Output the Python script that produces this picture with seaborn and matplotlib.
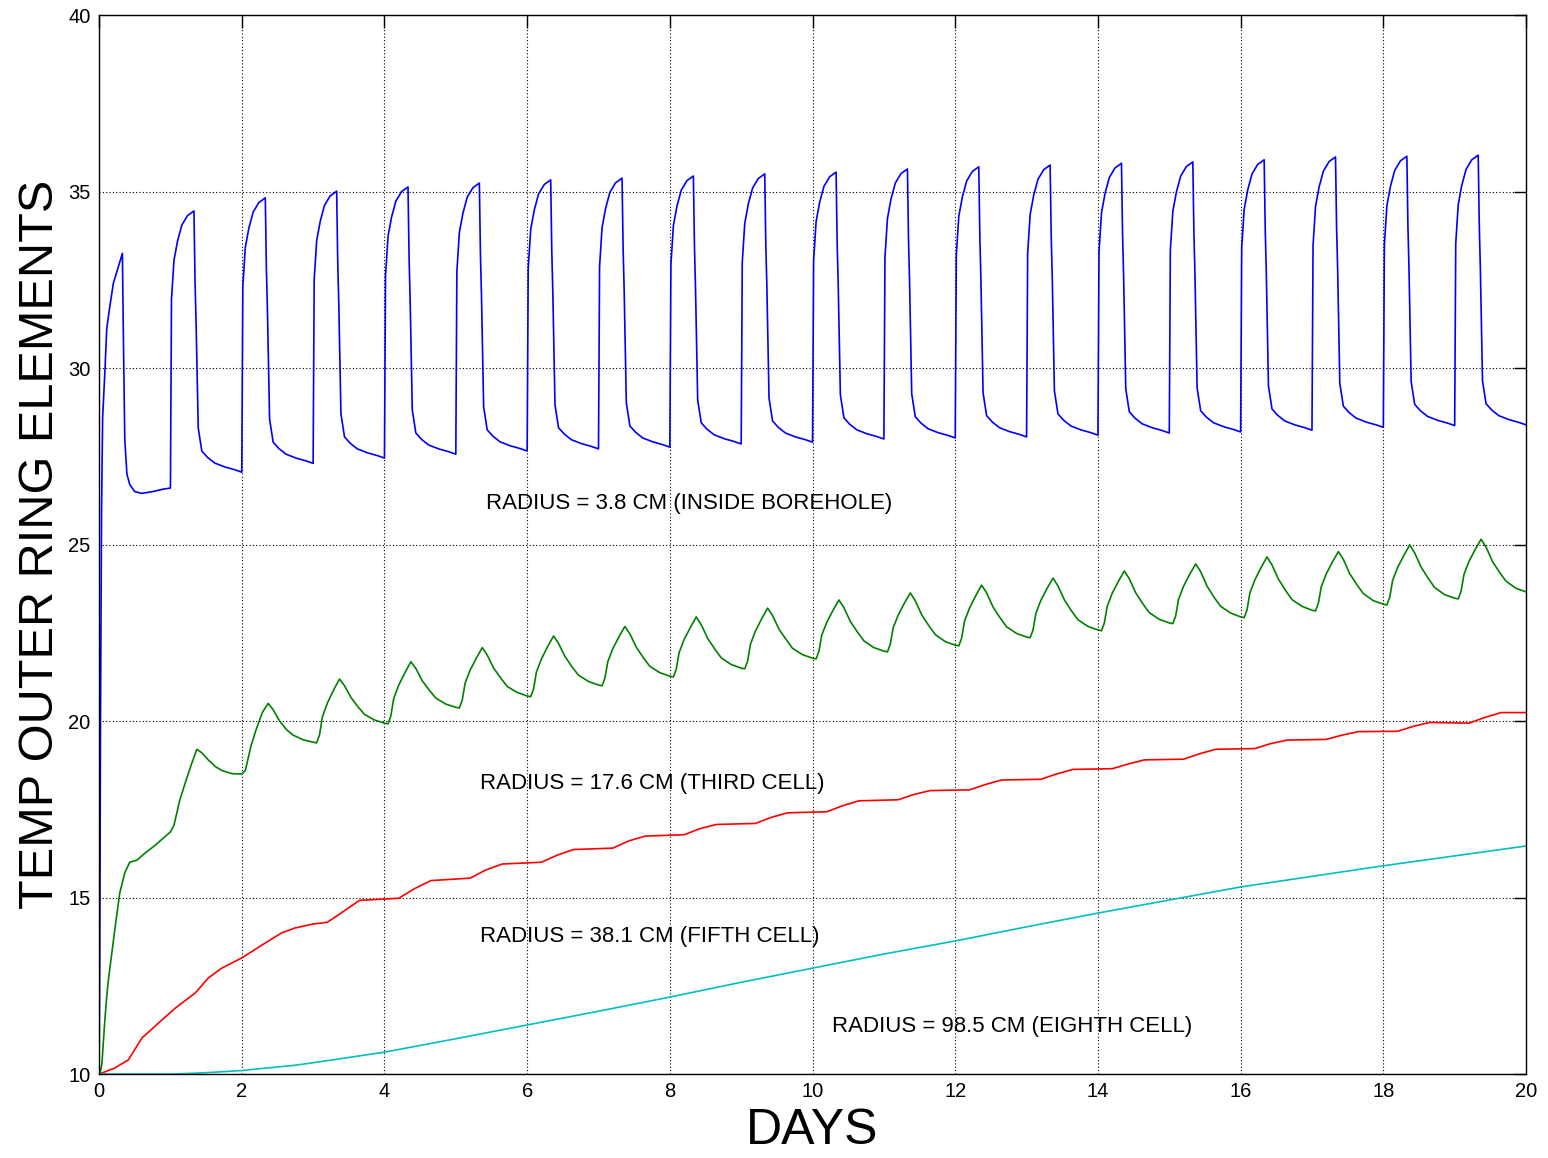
import numpy as np
import pandas as pd
import matplotlib
matplotlib.use("Agg")
import matplotlib.pyplot as plt
import seaborn as sns

# ---------------------------------------------------------------------------
# Temperature of outer ring elements (deg C) versus time (days)
# ---------------------------------------------------------------------------

# Blue: radius 3.8 cm, inside borehole. First day sampled separately,
# then one row of temperatures per daily heating cycle (days 1..19).
BLUE_FIRST_DAYS = [0.0, 0.01, 0.02, 0.035, 0.05, 0.084, 0.107, 0.14, 0.2, 0.27,
                   0.327, 0.34, 0.36, 0.39, 0.43, 0.5, 0.6, 0.75, 0.9]
BLUE_FIRST_TEMPS = [10.0, 13.5, 20.0, 26.0, 28.6, 30.0, 31.1, 31.6, 32.4, 32.87,
                    33.25, 31.0, 28.0, 27.0, 26.7, 26.5, 26.45, 26.5, 26.57]
BLUE_CYCLE_OFFSETS = [0.0, 0.015, 0.05, 0.10, 0.16, 0.24, 0.33, 0.345, 0.36,
                      0.39, 0.44, 0.52, 0.62, 0.76, 0.90]
BLUE_CYCLES = [
    [26.60, 31.95, 33.05, 33.60, 34.05, 34.32, 34.45, 32.45, 31.25, 28.30, 27.65, 27.47, 27.31, 27.20, 27.12],
    [27.05, 32.32, 33.42, 33.97, 34.42, 34.69, 34.82, 32.82, 31.62, 28.55, 27.90, 27.72, 27.56, 27.45, 27.37],
    [27.30, 32.51, 33.61, 34.16, 34.61, 34.88, 35.01, 33.01, 31.81, 28.70, 28.05, 27.87, 27.71, 27.60, 27.52],
    [27.45, 32.63, 33.73, 34.28, 34.73, 35.00, 35.13, 33.13, 31.93, 28.81, 28.16, 27.98, 27.82, 27.71, 27.63],
    [27.56, 32.74, 33.84, 34.39, 34.84, 35.11, 35.24, 33.24, 32.04, 28.90, 28.25, 28.07, 27.91, 27.80, 27.72],
    [27.65, 32.83, 33.93, 34.48, 34.93, 35.20, 35.33, 33.33, 32.13, 28.96, 28.31, 28.13, 27.97, 27.86, 27.78],
    [27.71, 32.88, 33.98, 34.53, 34.98, 35.25, 35.38, 33.38, 32.18, 29.01, 28.36, 28.18, 28.02, 27.91, 27.83],
    [27.76, 32.94, 34.04, 34.59, 35.04, 35.31, 35.44, 33.44, 32.24, 29.10, 28.45, 28.27, 28.11, 28.00, 27.92],
    [27.85, 33.00, 34.10, 34.65, 35.10, 35.37, 35.50, 33.50, 32.30, 29.15, 28.50, 28.32, 28.16, 28.05, 27.97],
    [27.90, 33.05, 34.15, 34.70, 35.15, 35.42, 35.55, 33.55, 32.35, 29.24, 28.59, 28.41, 28.25, 28.14, 28.06],
    [27.99, 33.14, 34.24, 34.79, 35.24, 35.51, 35.64, 33.64, 32.44, 29.27, 28.62, 28.44, 28.28, 28.17, 28.09],
    [28.02, 33.20, 34.30, 34.85, 35.30, 35.57, 35.70, 33.70, 32.50, 29.30, 28.65, 28.47, 28.31, 28.20, 28.12],
    [28.05, 33.25, 34.35, 34.90, 35.35, 35.62, 35.75, 33.75, 32.55, 29.35, 28.70, 28.52, 28.36, 28.25, 28.17],
    [28.10, 33.30, 34.40, 34.95, 35.40, 35.67, 35.80, 33.80, 32.60, 29.41, 28.76, 28.58, 28.42, 28.31, 28.23],
    [28.16, 33.34, 34.44, 34.99, 35.44, 35.71, 35.84, 33.84, 32.64, 29.44, 28.79, 28.61, 28.45, 28.34, 28.26],
    [28.19, 33.40, 34.50, 35.05, 35.50, 35.77, 35.90, 33.90, 32.70, 29.49, 28.84, 28.66, 28.50, 28.39, 28.31],
    [28.24, 33.48, 34.58, 35.13, 35.58, 35.85, 35.98, 33.98, 32.78, 29.57, 28.92, 28.74, 28.58, 28.47, 28.39],
    [28.32, 33.50, 34.60, 35.15, 35.60, 35.87, 36.00, 34.00, 32.80, 29.62, 28.97, 28.79, 28.63, 28.52, 28.44],
    [28.37, 33.53, 34.63, 35.18, 35.63, 35.90, 36.03, 34.03, 32.83, 29.64, 28.99, 28.81, 28.65, 28.54, 28.46],
]
BLUE_END = 28.39

# Green: radius 17.6 cm, third cell.
GREEN_FIRST_DAYS = [0.0, 0.02, 0.04, 0.08, 0.107, 0.13, 0.22, 0.29, 0.36, 0.43,
                    0.53, 0.645, 0.78, 0.95]
GREEN_FIRST_TEMPS = [10.0, 10.08, 10.3, 11.5, 12.19, 12.66, 14.08, 15.13, 15.7, 16.0,
                     16.06, 16.26, 16.47, 16.77]
GREEN_CYCLE_OFFSETS = [0.0, 0.05, 0.09, 0.13, 0.20, 0.29, 0.37, 0.44, 0.53,
                       0.63, 0.72, 0.86]
GREEN_CYCLES = [
    [16.86, 17.05, 17.40, 17.75, 18.20, 18.75, 19.20, 19.10, 18.90, 18.71, 18.60, 18.51],
    [18.50, 18.60, 18.95, 19.30, 19.75, 20.25, 20.50, 20.32, 20.00, 19.75, 19.60, 19.47],
    [19.40, 19.38, 19.61, 20.12, 20.51, 20.89, 21.19, 21.00, 20.67, 20.40, 20.19, 20.03],
    [19.94, 19.92, 20.15, 20.64, 21.02, 21.38, 21.68, 21.49, 21.14, 20.87, 20.65, 20.48],
    [20.39, 20.37, 20.59, 21.07, 21.44, 21.79, 22.08, 21.87, 21.50, 21.22, 20.98, 20.81],
    [20.71, 20.69, 20.91, 21.39, 21.76, 22.12, 22.41, 22.20, 21.83, 21.53, 21.30, 21.12],
    [21.02, 21.00, 21.22, 21.68, 22.05, 22.40, 22.68, 22.47, 22.09, 21.79, 21.55, 21.37],
    [21.27, 21.25, 21.47, 21.94, 22.31, 22.66, 22.95, 22.73, 22.34, 22.04, 21.79, 21.60],
    [21.50, 21.48, 21.70, 22.18, 22.55, 22.91, 23.20, 22.99, 22.60, 22.31, 22.06, 21.88],
    [21.78, 21.76, 21.98, 22.44, 22.80, 23.15, 23.43, 23.21, 22.82, 22.52, 22.27, 22.08],
    [21.98, 21.96, 22.18, 22.64, 23.00, 23.35, 23.63, 23.41, 23.01, 22.70, 22.45, 22.25],
    [22.15, 22.13, 22.35, 22.83, 23.20, 23.56, 23.85, 23.63, 23.23, 22.92, 22.67, 22.48],
    [22.38, 22.36, 22.58, 23.05, 23.42, 23.77, 24.05, 23.83, 23.43, 23.12, 22.87, 22.68],
    [22.58, 22.56, 22.78, 23.25, 23.62, 23.97, 24.25, 24.03, 23.63, 23.32, 23.07, 22.88],
    [22.78, 22.76, 22.98, 23.45, 23.82, 24.17, 24.45, 24.23, 23.82, 23.50, 23.25, 23.06],
    [22.95, 22.93, 23.15, 23.63, 24.00, 24.36, 24.65, 24.42, 24.02, 23.70, 23.44, 23.25],
    [23.14, 23.12, 23.34, 23.80, 24.17, 24.52, 24.80, 24.58, 24.17, 23.86, 23.61, 23.41],
    [23.31, 23.29, 23.51, 23.98, 24.35, 24.70, 24.99, 24.76, 24.36, 24.04, 23.78, 23.58],
    [23.48, 23.46, 23.68, 24.15, 24.52, 24.87, 25.15, 24.93, 24.52, 24.21, 23.96, 23.76],
]
GREEN_END = 23.66

# Red: radius 38.1 cm, fifth cell.
RED_DAYS = [0.0, 0.04, 0.22, 0.41, 0.6, 0.88, 1.07, 1.35, 1.53, 1.72, 2.0, 2.28,
            2.56, 2.75, 3.0, 3.2, 3.42, 3.65, 4.2, 4.42, 4.65, 5.2, 5.42, 5.65,
            6.2, 6.42, 6.65, 7.2, 7.42, 7.65, 8.2, 8.42, 8.65, 9.2, 9.42, 9.65,
            10.2, 10.42, 10.65, 11.2, 11.42, 11.65, 12.2, 12.42, 12.65, 13.2,
            13.42, 13.65, 14.2, 14.42, 14.65, 15.2, 15.42, 15.65, 16.2, 16.42,
            16.65, 17.2, 17.42, 17.65, 18.2, 18.42, 18.65, 19.2, 19.42, 19.65, 20.0]
RED_TEMPS = [10.0, 10.03, 10.17, 10.4, 11.02, 11.53, 11.87, 12.3, 12.72, 13.0, 13.29,
             13.65, 14.0, 14.14, 14.25, 14.3, 14.6, 14.92, 14.98, 15.25, 15.48, 15.55,
             15.78, 15.95, 16.0, 16.2, 16.36, 16.4, 16.6, 16.74, 16.78, 16.95, 17.07,
             17.1, 17.27, 17.4, 17.43, 17.6, 17.74, 17.77, 17.92, 18.03, 18.05, 18.2,
             18.33, 18.35, 18.5, 18.63, 18.65, 18.78, 18.9, 18.92, 19.07, 19.2, 19.22,
             19.36, 19.46, 19.48, 19.6, 19.7, 19.71, 19.85, 19.96, 19.94, 20.1, 20.24,
             20.24]

# Cyan: radius 98.5 cm, eighth cell.
CYAN_DAYS = [0.0, 1.0, 1.3, 1.6, 2.0, 2.75, 3.0, 4.0, 5.0, 6.0, 7.0, 8.0, 9.0,
             10.0, 11.0, 12.0, 13.0, 14.0, 15.0, 16.0, 17.0, 18.0, 19.0, 20.0]
CYAN_TEMPS = [10.0, 10.0, 10.02, 10.05, 10.1, 10.25, 10.32, 10.62, 11.0, 11.39,
              11.78, 12.18, 12.6, 13.0, 13.4, 13.77, 14.17, 14.56, 14.93, 15.3,
              15.6, 15.9, 16.18, 16.46]

LABELS = {
    "blue": "RADIUS = 3.8 CM (INSIDE BOREHOLE)",
    "green": "RADIUS = 17.6 CM (THIRD CELL)",
    "red": "RADIUS = 38.1 CM (FIFTH CELL)",
    "cyan": "RADIUS = 98.5 CM (EIGHTH CELL)",
}
COLORS = {"blue": "#0000ff", "green": "#008000", "red": "#ff0000", "cyan": "#00bfbf"}


def cycle_series(first_days, first_temps, offsets, cycles, end_temp):
    days = list(first_days)
    temps = list(first_temps)
    for k, row in enumerate(cycles, start=1):
        days.extend(k + o for o in offsets)
        temps.extend(row)
    days.append(20.0)
    temps.append(end_temp)
    return days, temps


frames = []
bd, bt = cycle_series(BLUE_FIRST_DAYS, BLUE_FIRST_TEMPS, BLUE_CYCLE_OFFSETS, BLUE_CYCLES, BLUE_END)
gd, gt = cycle_series(GREEN_FIRST_DAYS, GREEN_FIRST_TEMPS, GREEN_CYCLE_OFFSETS, GREEN_CYCLES, GREEN_END)
for name, d, t in [("blue", bd, bt), ("green", gd, gt),
                   ("red", RED_DAYS, RED_TEMPS), ("cyan", CYAN_DAYS, CYAN_TEMPS)]:
    frames.append(pd.DataFrame({"day": d, "temp": t, "ring": name}))
df = pd.concat(frames, ignore_index=True)

sns.set_theme(style="white")
plt.rcParams["font.family"] = ["Liberation Sans", "DejaVu Sans"]
plt.rcParams["text.color"] = "black"
plt.rcParams["axes.labelcolor"] = "black"

fig = plt.figure(figsize=(15.48, 11.58), dpi=100)
ax = fig.add_axes([0.064, 0.0725, 0.9218, 0.9145])

sns.lineplot(data=df, x="day", y="temp", hue="ring", palette=COLORS,
             estimator=None, sort=False, linewidth=1.2, legend=False, ax=ax)

ax.set_xlim(0, 20)
ax.set_ylim(10, 40)
ax.set_xticks(np.arange(0, 21, 2))
ax.set_yticks(np.arange(10, 41, 5))
ax.grid(True, linestyle=(0, (1, 2)), color="black", linewidth=0.8)
ax.tick_params(direction="in", length=9, width=1, top=True, right=True,
               labelsize=14.5, colors="black", pad=6)
for sp in ax.spines.values():
    sp.set_color("black")
    sp.set_linewidth(1.0)

ax.set_xlabel("DAYS", fontsize=36, labelpad=5, color="black")
ax.set_ylabel("TEMP OUTER RING ELEMENTS", fontsize=35, labelpad=4, color="black")

ax.text(5.42, 26.15, LABELS["blue"], fontsize=16, ha="left", va="center", color="black")
ax.text(5.34, 18.22, LABELS["green"], fontsize=16, ha="left", va="center", color="black")
ax.text(5.34, 13.91, LABELS["red"], fontsize=16, ha="left", va="center", color="black")
ax.text(10.27, 11.36, LABELS["cyan"], fontsize=16, ha="left", va="center", color="black")

fig.savefig("out.png", dpi=100)
